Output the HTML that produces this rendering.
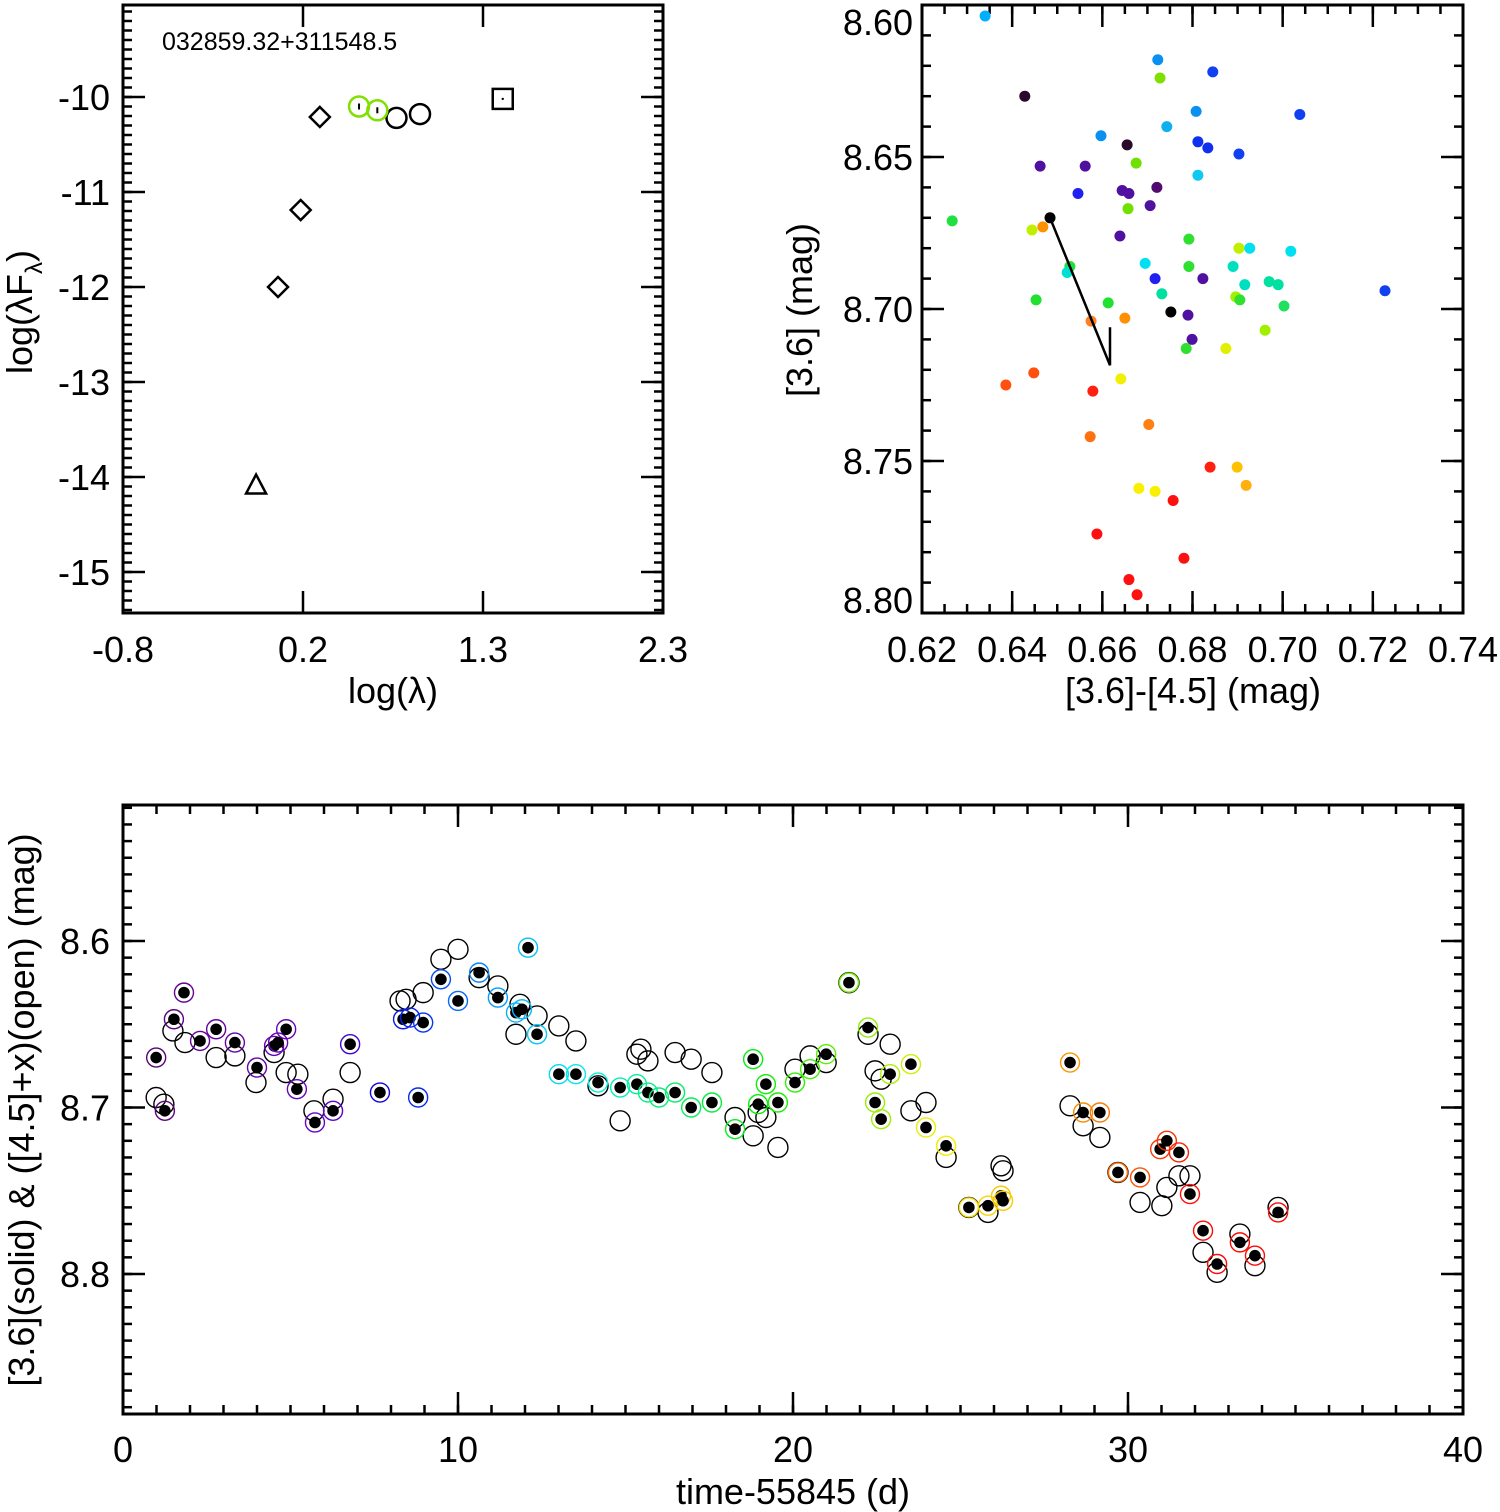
<!DOCTYPE html>
<html><head><meta charset="utf-8">
<style>
html,body{margin:0;padding:0;background:#fff;}
svg{display:block;font-family:"Liberation Sans",Helvetica,Arial,sans-serif;}
</style></head>
<body>
<svg id="fig" width="1500" height="1512" viewBox="0 0 1500 1512" xmlns="http://www.w3.org/2000/svg">
<g id="sed"></g>
<g id="cmd"></g>
<g id="lc"></g>
</svg>
<script>
// ---------- SED panel data ----------
const sedDiamondX = [0.09, 0.22, 0.33];
const sedDiamondY = [-12.0, -11.19, -10.21];
const sedTriX = [-0.036];
const sedTriY = [-14.09];
const sedGreenX = [0.555, 0.66];
const sedGreenY = [-10.10, -10.14];
const sedCircX = [0.77, 0.905];
const sedCircY = [-10.22, -10.18];
const sedSquareX = [1.38];
const sedSquareY = [-10.02];
const sedXTicks = ["-0.8", "0.2", "1.3", "2.3"];
const sedYTicks = [-10, -11, -12, -13, -14, -15];

// ---------- CMD panel data ----------
const cmdX = [0.634,0.6428,0.6723,0.6845,0.6728,0.6808,0.7038,0.6743,0.6597,0.6812,0.6834,0.6903,0.6655,0.6462,0.6562,0.6675,0.6546,0.6644,0.6659,0.6721,0.6812,0.6267,0.6484,0.6444,0.6468,0.6657,0.6706,0.6639,0.6792,0.6903,0.6927,0.7018,0.6695,0.6717,0.6792,0.6823,0.6890,0.6528,0.6522,0.6916,0.6970,0.6990,0.7227,0.6732,0.6453,0.6613,0.6896,0.6905,0.7003,0.6752,0.6790,0.6575,0.6650,0.6799,0.6786,0.6961,0.6874,0.6386,0.6448,0.6579,0.6641,0.6573,0.6703,0.6839,0.6899,0.6919,0.6681,0.6717,0.6757,0.6588,0.6781,0.6659,0.6677];
const cmdY = [8.6036,8.630,8.618,8.622,8.624,8.635,8.636,8.640,8.643,8.645,8.647,8.649,8.646,8.653,8.653,8.652,8.662,8.661,8.662,8.660,8.656,8.671,8.670,8.674,8.673,8.667,8.666,8.676,8.677,8.680,8.680,8.681,8.685,8.690,8.686,8.690,8.686,8.686,8.688,8.692,8.691,8.692,8.694,8.695,8.697,8.698,8.696,8.697,8.699,8.701,8.702,8.704,8.703,8.710,8.713,8.707,8.713,8.725,8.721,8.727,8.723,8.742,8.738,8.752,8.752,8.758,8.759,8.760,8.763,8.774,8.782,8.789,8.794];
const cmdColors = ["#00b0ff","#2a0a2a","#0a90f0","#1040f0","#7fe000","#0a90f0","#1040f0","#10b0f0","#0a90f0","#1030f0","#1030f0","#1040f0","#2a0a2a","#5010a0","#5010a0","#70e000","#2020f0","#5010a0","#5010a0","#500a70","#10c8f0","#20e040","#000000","#c0f000","#ff9000","#70e000","#5010a0","#5010a0","#30e030","#c0f000","#00e0f0","#00e0f0","#00e0f0","#2020f0","#30e030","#5010a0","#00e0c0","#20e040","#00e0d0","#00e0c0","#00e0a0","#00e0a0","#1040f0","#00e0a0","#20e030","#20e030","#a0f000","#30e030","#20e060","#000000","#5010a0","#ff8020","#ff9000","#5010a0","#30e030","#a0f000","#e0f000","#ff5010","#ff5010","#ff2010","#f0f000","#ff7010","#ff8010","#ff2010","#ffc000","#ffb010","#f8f000","#f8f000","#ff1010","#ff1010","#ff1010","#ff1010","#ff1010"];
const vecX = [0.6484, 0.6617, 0.6617];
const vecY = [8.670, 8.7185, 8.706];
const cmdXTicks = [0.62,0.64,0.66,0.68,0.70,0.72,0.74];
const cmdYTicks = [8.60,8.65,8.70,8.75,8.80];

// ---------- Light curve data ----------
const lcSolidT = [0.99,1.25,1.52,1.82,2.30,2.78,3.34,4.00,4.51,4.63,4.87,5.19,5.73,6.27,6.78,7.67,8.36,8.57,8.96,8.81,9.49,10.0,10.63,11.19,11.73,11.91,12.09,12.36,13.01,13.52,14.18,14.84,15.34,15.67,16.0,16.48,16.96,17.58,18.27,18.81,18.96,19.19,19.55,20.06,20.51,20.99,21.67,22.24,22.45,22.63,22.90,23.52,23.97,24.57,25.25,25.82,26.21,26.27,28.27,28.66,29.16,29.70,30.36,30.96,31.16,31.52,31.85,32.24,32.66,33.34,33.79,34.48];
const lcSolidM = [8.670,8.702,8.647,8.631,8.660,8.653,8.661,8.676,8.663,8.661,8.653,8.689,8.709,8.702,8.662,8.691,8.647,8.646,8.649,8.694,8.623,8.636,8.619,8.634,8.643,8.641,8.604,8.656,8.680,8.680,8.685,8.688,8.686,8.691,8.694,8.691,8.700,8.697,8.713,8.671,8.698,8.686,8.697,8.685,8.677,8.668,8.625,8.652,8.697,8.707,8.680,8.674,8.712,8.723,8.760,8.759,8.753,8.756,8.673,8.703,8.703,8.739,8.742,8.725,8.720,8.727,8.752,8.774,8.794,8.781,8.789,8.763];
const lcOpenT = [0.99,1.22,1.49,1.85,2.78,3.34,3.97,4.51,4.87,5.22,5.70,6.27,6.78,8.27,8.45,8.96,9.49,10.0,10.63,11.19,11.73,11.85,12.36,13.01,13.52,14.18,14.84,15.34,15.46,15.67,16.48,16.96,17.58,18.27,18.81,18.96,19.19,19.55,20.06,20.51,20.99,21.67,22.24,22.45,22.63,22.90,23.52,23.97,24.57,25.25,25.82,26.21,26.27,28.27,28.66,29.16,29.70,30.36,31.01,31.16,31.52,31.85,32.24,32.66,33.34,33.79,34.48];
const lcOpenM = [8.694,8.698,8.654,8.661,8.670,8.669,8.685,8.667,8.679,8.680,8.702,8.695,8.679,8.636,8.635,8.631,8.611,8.605,8.622,8.627,8.656,8.638,8.645,8.651,8.660,8.687,8.708,8.668,8.665,8.672,8.667,8.671,8.679,8.706,8.717,8.703,8.706,8.724,8.677,8.669,8.673,8.625,8.656,8.678,8.683,8.662,8.702,8.697,8.730,8.760,8.763,8.735,8.738,8.699,8.711,8.718,8.739,8.757,8.759,8.748,8.741,8.741,8.787,8.799,8.776,8.795,8.760];
const lcXTicks = [0,10,20,30,40];
const lcYTicks = [8.6,8.7,8.8];

const NS = "http://www.w3.org/2000/svg";
function mk(parent, tag, attrs, text){
  const e = document.createElementNS(NS, tag);
  for (const k in attrs) e.setAttribute(k, attrs[k]);
  if (text !== undefined) e.textContent = text;
  parent.appendChild(e);
  return e;
}
function lin(d0,d1,p0,p1){ return v => p0 + (v-d0)/(d1-d0)*(p1-p0); }

function frame(g, L, T, R, B){
  const r = mk(g,'rect',{x:L,y:T,width:R-L,height:B-T,fill:'none',stroke:'#000','stroke-width':3});
  
  
}
function xticks(g, sx, vals, T, B, len){
  vals.forEach(v=>{
    const x = sx(v);
    const a = mk(g,'line',{x1:x,x2:x,y1:B,y2:B-len,stroke:'#000','stroke-width':2.5});
    
    
    mk(g,'line',{x1:x,x2:x,y1:T,y2:T+len,stroke:'#000','stroke-width':2.5});
  });
}
function yticks(g, sy, vals, L, R, len){
  vals.forEach(v=>{
    const y = sy(v);
    const a = mk(g,'line',{x1:L,x2:L+len,y1:y,y2:y,stroke:'#000','stroke-width':2.5});
    
    
    mk(g,'line',{x1:R,x2:R-len,y1:y,y2:y,stroke:'#000','stroke-width':2.5});
  });
}
function range(a,b,s){ const r=[]; for(let v=a; v<=b+s*1e-6; v+=s) r.push(+v.toFixed(6)); return r; }
function label(g, x, y, txt, name, extra){
  const t = mk(g,'text',Object.assign({x:x,y:y,'font-size':36,'text-anchor':'middle',fill:'#000'},extra||{}),txt);
  
  
  return t;
}

// ===== SED panel =====
(function(){
  const g = document.getElementById('sed');
  const L=123,T=5,R=663,B=613;
  const sx = lin(-0.8,2.3,L,R);
  const sy = lin(-10,-11,97,192);
  frame(g,L,T,R,B);
  xticks(g,sx,[-0.8,-0.8+3.1/3,-0.8+6.2/3,2.3],T,B,22);
  yticks(g,sy,sedYTicks,L,R,22);
  yticks(g,sy,range(-15.4,-9.1,0.1),L,R,9);
  sedXTicks.forEach((t,i)=>label(g,sx(-0.8+i*3.1/3),662,t,'x-tick-label'));
  sedYTicks.forEach(v=>label(g,110,sy(v)+13,String(v),'y-tick-label',{'text-anchor':'end'}));
  label(g,393,703,'log(\u03bb)','x-axis-title');
  const yt = mk(g,'text',{transform:'translate(32,312) rotate(-90)','font-size':36,'text-anchor':'middle'});
  
  
  yt.innerHTML = 'log(\u03bbF<tspan font-size="24" dy="10">\u03bb</tspan><tspan dy="-10">)</tspan>';
  const nm = mk(g,'text',{x:162,y:50,'font-size':25},'032859.32+311548.5');
  
  
  sedDiamondX.forEach((x,i)=>{
    const cx=sx(x), cy=sy(sedDiamondY[i]);
    const p = mk(g,'polygon',{points:`${cx},${cy-10} ${cx+10},${cy} ${cx},${cy+10} ${cx-10},${cy}`,fill:'none',stroke:'#000','stroke-width':2.5});
    
    
  });
  sedTriX.forEach((x,i)=>{
    const cx=sx(x), cy=sy(sedTriY[i]);
    const p = mk(g,'polygon',{points:`${cx},${cy-11} ${cx+10},${cy+8} ${cx-10},${cy+8}`,fill:'none',stroke:'#000','stroke-width':2.5});
    
    
  });
  sedCircX.forEach((x,i)=>{
    const c = mk(g,'circle',{cx:sx(x),cy:sy(sedCircY[i]),r:10,fill:'none',stroke:'#000','stroke-width':2.5});
    
    
  });
  sedGreenX.forEach((x,i)=>{
    const c = mk(g,'circle',{cx:sx(x),cy:sy(sedGreenY[i]),r:10,fill:'none',stroke:'#80e000','stroke-width':2.5});
    
    
    mk(g,'line',{x1:sx(x),x2:sx(x),y1:sy(sedGreenY[i])-3,y2:sy(sedGreenY[i])+3,stroke:'#000','stroke-width':2});
  });
  sedSquareX.forEach((x,i)=>{
    const cx=sx(x), cy=sy(sedSquareY[i]);
    const s = mk(g,'rect',{x:cx-10,y:cy-10,width:20,height:20,fill:'none',stroke:'#000','stroke-width':2.5});
    
    
    mk(g,'circle',{cx:cx,cy:cy,r:1.2,fill:'#000'});
  });
})();

// ===== CMD panel =====
(function(){
  const g = document.getElementById('cmd');
  const L=922,T=5,R=1463,B=613;
  const sx = lin(0.62,0.74,L,R);
  const sy = lin(8.60,8.80,T,B);
  frame(g,L,T,R,B);
  xticks(g,sx,cmdXTicks,T,B,22);
  xticks(g,sx,range(0.62,0.74,0.005),T,B,9);
  yticks(g,sy,cmdYTicks,L,R,22);
  yticks(g,sy,range(8.60,8.80,0.01),L,R,9);
  cmdXTicks.forEach(v=>label(g,sx(v),662,v.toFixed(2),'x-tick-label'));
  cmdYTicks.forEach(v=>label(g,913,Math.min(Math.max(sy(v),22),600)+13,v.toFixed(2),'y-tick-label',{'text-anchor':'end'}));
  label(g,1193,703,'[3.6]-[4.5] (mag)','x-axis-title');
  label(g,0,0,'[3.6] (mag)','y-axis-title',{transform:'translate(812,310) rotate(-90)'});
  cmdX.forEach((x,i)=>{
    const c = mk(g,'circle',{cx:sx(x),cy:sy(cmdY[i]),r:5.5,fill:cmdColors[i]});
    
    
  });
  const pts = vecX.map((x,i)=>`${sx(x)},${sy(vecY[i])}`).join(' ');
  const v = mk(g,'polyline',{points:pts,fill:'none',stroke:'#000','stroke-width':2.5});
  
  
})();

// ===== Light curve panel =====
(function(){
  const g = document.getElementById('lc');
  const L=123,T=805,R=1463,B=1414;
  const sx = lin(0,40,L,R);
  const sy = lin(8.6,8.8,941,1274);
  frame(g,L,T,R,B);
  xticks(g,sx,lcXTicks,T,B,22);
  xticks(g,sx,range(0,40,1),T,B,9);
  yticks(g,sy,lcYTicks,L,R,22);
  yticks(g,sy,range(8.52,8.88,0.01),L,R,9);
  lcXTicks.forEach(v=>label(g,sx(v),1462,String(v),'x-tick-label'));
  lcYTicks.forEach(v=>label(g,110,sy(v)+13,v.toFixed(1),'y-tick-label',{'text-anchor':'end'}));
  label(g,793,1504,'time-55845 (d)','x-axis-title');
  label(g,0,0,'[3.6](solid) & ([4.5]+x)(open) (mag)','y-axis-title',{transform:'translate(34,1110) rotate(-90)'});
  // colour scale knots (style): time -> hue / lightness
  const kt = [0, 2, 6, 7.5, 10, 12, 13.5, 16, 19, 22, 24, 26, 28.5, 30.5, 32, 40];
  const kh = [290, 280, 270, 245, 215, 195, 182, 150, 120, 88, 62, 50, 35, 18, 2, 0];
  const kl = [18, 30, 40, 45, 50, 50, 48, 48, 48, 48, 48, 50, 50, 50, 50, 50];
  function interp(arr, t){
    if (t <= kt[0]) return arr[0];
    for (let i=1;i<kt.length;i++){
      if (t <= kt[i]){ const f=(t-kt[i-1])/(kt[i]-kt[i-1]); return arr[i-1]+f*(arr[i]-arr[i-1]); }
    }
    return arr[arr.length-1];
  }
  function ringColor(t){ return `hsl(${interp(kh,t)},95%,${interp(kl,t)}%)`; }
  lcOpenT.forEach((t,i)=>{
    const c = mk(g,'circle',{cx:sx(t),cy:sy(lcOpenM[i]),r:10,fill:'none',stroke:'#000','stroke-width':1.4});
    
    
  });
  lcSolidT.forEach((t,i)=>{
    const ring = mk(g,'circle',{cx:sx(t),cy:sy(lcSolidM[i]),r:9.5,fill:'none',stroke:ringColor(t),'stroke-width':1.4});
    
    
    const d = mk(g,'circle',{cx:sx(t),cy:sy(lcSolidM[i]),r:5.8,fill:'#000'});
    
    
  });
})();
</script>
</body></html>
